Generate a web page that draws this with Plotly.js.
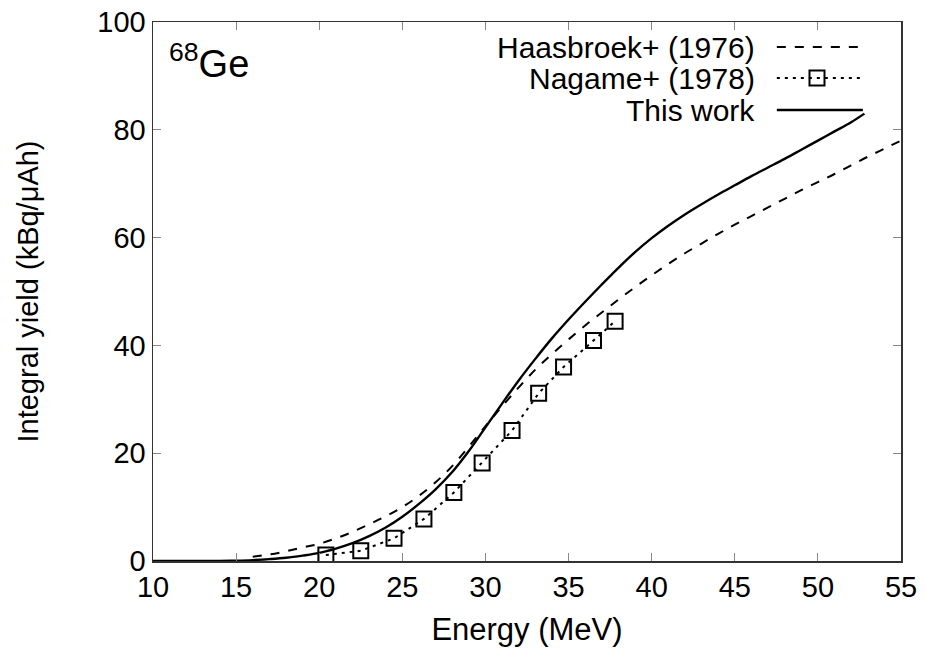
<!DOCTYPE html>
<html><head><meta charset="utf-8">
<script src="https://cdn.plot.ly/plotly-3.0.1.min.js"></script>
<style>html,body{margin:0;padding:0;background:#fff}#chart{width:927px;height:662px}</style>
</head><body><div id="chart"></div>
<script>
// This work (solid)
const thisWorkEnergy = [10,12,14,15,16,17,18,19,20,21,22,23,24,25,26,27,28,29,30,31,32,33,34,35,36,37,38,39,40,41,42,43,44,45,46,47,48,49,50,51,52,52.8];
const thisWorkYield  = [0,0,0.02,0.07,0.17,0.35,0.6,1.0,1.5,2.3,3.3,4.6,6.2,8.2,10.6,13.3,16.5,20.4,24.8,29.2,33.5,37.5,41.3,44.8,48.1,51.3,54.4,57.3,59.9,62.2,64.3,66.2,68.0,69.7,71.4,73.0,74.6,76.3,78.0,79.7,81.4,83.0];
// Haasbroek+ (1976) (dashed)
const haasEnergy = [16,17,18,19,20,21,22,23,24,25,26,27,28,29,30,31,32,33,34,35,36,37,38,39,40,41,42,43,44,45,46,47,48,49,50,51,52,53,54,55];
const haasYield  = [0.8,1.2,1.8,2.5,3.2,4.2,5.4,6.8,8.3,10.0,12.1,14.6,17.6,21.2,25.0,28.7,32.2,35.5,38.4,41.1,43.7,46.1,48.5,50.8,53.0,55.1,57.1,58.9,60.7,62.4,64.0,65.6,67.2,68.8,70.3,71.8,73.4,75.0,76.5,78.0];
// Nagame+ (1978) (squares, dotted)
const nagameEnergy = [20.4,22.5,24.5,26.3,28.1,29.8,31.6,33.2,34.7,36.5,37.8];
const nagameYield  = [1.1,1.9,4.2,7.8,12.7,18.2,24.2,31.1,36.0,40.9,44.5];
// ticks
const xTicks = [10,15,20,25,30,35,40,45,50,55];
const yTicks = [0,20,40,60,80,100];
const legendLabels = ['Haasbroek+ (1976)','Nagame+ (1978)','This work'];

const FONT = 'Liberation Sans, Arial, Helvetica, sans-serif';
const traces = [
  {x: haasEnergy, y: haasYield, mode:'lines', line:{color:'#000', width:2, dash:'9px,9px', shape:'spline'}, hoverinfo:'skip'},
  {x: nagameEnergy, y: nagameYield, mode:'lines+markers', line:{color:'#000', width:2, dash:'3px,5px'},
   marker:{symbol:'square-open', size:15, color:'#000', line:{width:2, color:'#000'}}, hoverinfo:'skip'},
  {x: thisWorkEnergy, y: thisWorkYield, mode:'lines', line:{color:'#000', width:2.4, shape:'spline'}, hoverinfo:'skip'}
];

// legend positions (paper coords)
const ly = [0.9536, 0.8961, 0.8367];
const lx0 = 0.834, lx1 = 0.949, ltext = 0.8075, lsq = 0.8877;
const dashes = ['9px,9px','3px,5px','solid'];
const annotations = legendLabels.map((t,i)=>({
  xref:'paper', yref:'paper', x:ltext, y:ly[i], xanchor:'right', yanchor:'middle',
  text:t, showarrow:false, font:{family:FONT, size:30, color:'#000'}
}));
annotations.push({xref:'paper', yref:'paper', x:0.019, y:0.975, xanchor:'left', yanchor:'top',
  text:'<sup>68</sup>Ge', showarrow:false, font:{family:FONT, size:38, color:'#000'}});
const shapes = legendLabels.map((t,i)=>({
  type:'line', xref:'paper', yref:'paper', x0:lx0, x1:lx1, y0:ly[i], y1:ly[i],
  line:{color:'#000', width: i===2?2.4:2, dash:dashes[i]}
}));
shapes.push({type:'rect', xref:'paper', yref:'paper', xsizemode:'pixel', ysizemode:'pixel',
  xanchor:lsq, yanchor:ly[1], x0:-7.5, x1:7.5, y0:-7.5, y1:7.5, line:{color:'#000', width:2}});

const axisCommon = {
  showline:true, linecolor:'#333', linewidth:1.5, mirror:'ticks',
  ticks:'inside', ticklen:8, tickwidth:1, tickcolor:'#888',
  showgrid:false, zeroline:false, tickfont:{family:FONT, size:29, color:'#000'}
};
const layout = {
  width:927, height:662, margin:{l:153, r:26, t:22, b:101},
  paper_bgcolor:'#fff', plot_bgcolor:'#fff', showlegend:false,
  xaxis: Object.assign({}, axisCommon, {range:[10,55], tickvals:xTicks, ticktext:xTicks.map(String),
    title:{text:'Energy (MeV)', font:{family:FONT, size:31, color:'#000'}, standoff:16}}),
  yaxis: Object.assign({}, axisCommon, {range:[0,100], tickvals:yTicks, ticktext:yTicks.map(String),
    title:{text:'Integral yield (kBq/μAh)', font:{family:FONT, size:29, color:'#000'}, standoff:50}}),
  annotations: annotations, shapes: shapes
};
Plotly.newPlot('chart', traces, layout, {displayModeBar:false, staticPlot:true});
</script></body></html>
